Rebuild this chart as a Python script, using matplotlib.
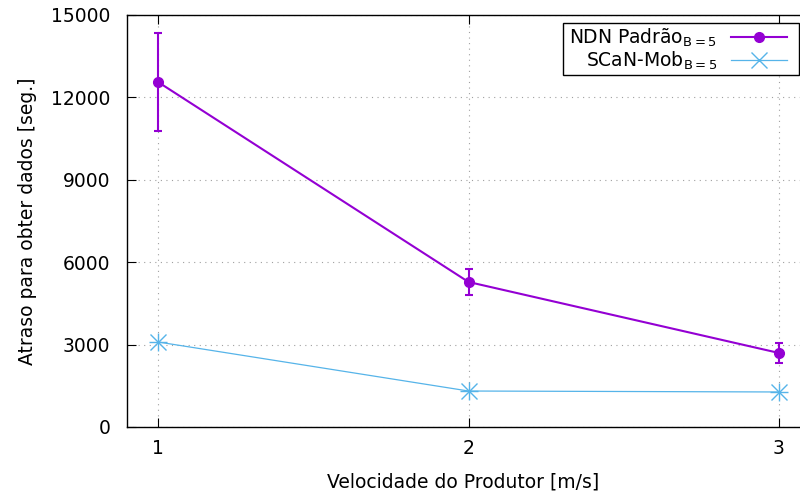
import matplotlib
matplotlib.use("Agg")
import matplotlib.pyplot as plt
from matplotlib.lines import Line2D
from matplotlib.patches import Rectangle

speeds = [1, 2, 3]
ndn_vals = [12560, 5280, 2695]
ndn_err_low = [1785, 475, 365]
ndn_err_high = [1780, 470, 363]
scan_vals = [3095, 1310, 1275]
yticks = [0, 3000, 6000, 9000, 12000, 15000]

plt.rcParams['font.family'] = ['DejaVu Sans']
plt.rcParams['mathtext.fontset'] = 'dejavusans'

FS = 13.5
purple = '#9400D3'
blue = '#56B4E9'
W, H = 800, 495

fig = plt.figure(figsize=(8, 4.95), dpi=100)
ax = fig.add_axes([127 / W, 1 - 427 / H, 1 - 127 / W, 412 / H])

ax.errorbar(speeds, ndn_vals, yerr=[ndn_err_low, ndn_err_high], color=purple,
            lw=1.5, marker='o', ms=7, capsize=3, capthick=1.5, elinewidth=1.5,
            zorder=3)
ax.plot(speeds, scan_vals, color=blue, lw=0.9, marker='x', ms=11, mew=1.0, zorder=3)
ax.plot(speeds, scan_vals, color=blue, lw=0, marker='+', ms=13, mew=1.0, zorder=3)

ax.set_xlim(0.9, 3.0677)
ax.set_ylim(0, 15000)
ax.set_xticks(speeds)
ax.set_yticks(yticks)
ax.tick_params(direction='in', top=True, right=False, labelsize=FS, length=6.5)
ax.tick_params(axis='x', pad=9)
ax.tick_params(axis='y', pad=12)
ax.grid(True, color='#a0a0a0', linestyle=(0, (1, 4)), lw=0.8)
for s in ax.spines.values():
    s.set_linewidth(1.0)
ax.spines['right'].set_visible(False)

ax.set_xlabel('Velocidade do Produtor [m/s]', fontsize=FS, labelpad=10)
ax.set_ylabel('Atraso para obter dados [seg.]', fontsize=FS, labelpad=10)

h1 = Line2D([], [], color=purple, lw=1.5, marker='o', ms=7)
h2 = Line2D([], [], color=blue, lw=0.9, marker='x', ms=11, mew=1.0)
leg = ax.legend([h1, h2], [r'NDN Padrão$_{\mathrm{B=5}}$', r'SCaN-Mob$_{\mathrm{B=5}}$'],
                loc='upper right', markerfirst=False, fontsize=FS, frameon=False,
                borderpad=0.2, handlelength=3.0, handletextpad=0.75,
                labelspacing=0.05, borderaxespad=0,
                bbox_to_anchor=((791 - 127) / 673, (427 - 23) / 412))
for t in leg.get_texts():
    t.set_ha('right')
leg.set_zorder(6)

box = Rectangle((563 / W, 1 - 75 / H), (799 - 563) / W, (75 - 23) / H,
                transform=fig.transFigure, facecolor='white', edgecolor='black',
                lw=1.0, zorder=5)
ax.add_artist(box)
box.set_clip_on(False)

fig.savefig('out.png', dpi=100)
